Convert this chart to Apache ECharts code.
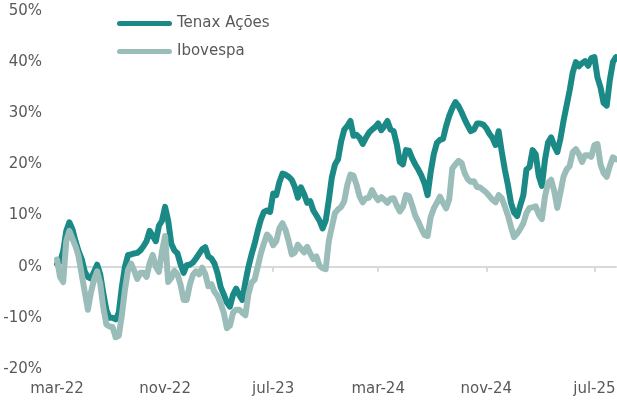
<!DOCTYPE html>
<html>
<head>
<meta charset="utf-8">
<script src="https://cdn.jsdelivr.net/npm/echarts@6/dist/echarts.min.js"></script>
<style>
  html, body { margin: 0; padding: 0; background: #fff; }
  #chart { width: 617px; height: 401px; }
</style>
</head>
<body>
<div id="chart"></div>
<script>
// weekly points, first one on 2022-03-01
const startDate = '2022-03-01'

const tenax = [
  0.5, 1, 3, 7, 8.7, 7.3, 5, 3, 1.5, -1,
  -2, -2.3, -1, 0.4, -1.5, -5.2, -8.5, -10, -10, -10.3,
  -9, -4, 0, 2.3, 2.4, 2.6, 2.7, 3.2, 4, 5,
  7, 6, 5, 8, 9, 11.7, 9, 4.5, 3.2, 2.6,
  0.5, -1.2, 0.3, 0.4, 0.8, 1.6, 2.5, 3.4, 3.8, 2,
  1.6, 0.6, -1.3, -4, -5.4, -7, -7.8, -5.5, -4.3, -5.5,
  -6.5, -3, 0, 2.4, 4.5, 7, 9.2, 10.7, 11, 10.7,
  14.3, 14, 16.5, 18.2, 18, 17.6, 17, 15.6, 13.5, 15.5,
  14.2, 12.5, 12.8, 11, 10, 9, 7.5, 9, 13, 17.5,
  20, 21, 24.5, 26.8, 27.5, 28.5, 25.6, 25.8, 25.2, 24,
  25.2, 26.2, 26.8, 27.3, 28, 26.7, 27.5, 28.5, 26.8, 26.5,
  24, 20.5, 20, 22.8, 22.7, 21.2, 20, 19, 17.8, 16.3,
  14, 18.5, 22, 24.2, 24.8, 25, 27.5, 29.5, 31, 32.2,
  31.4, 30.2, 28.8, 27.6, 26.5, 26.8, 28, 28, 27.8, 27.1,
  26, 25.2, 23.8, 26.5, 22.5, 19, 16, 12.5, 10.6, 9.9,
  12, 14, 19, 19.5, 22.8, 22, 17.7, 15.8, 20.9, 24.3,
  25.3, 23.6, 22.4, 25, 28.5, 31.5, 34.5, 38, 40, 39.2,
  39.8, 40.2, 39.3, 40.8, 41, 37, 35, 32, 31.5, 36.5,
  40, 41
]

const ibovespa = [
  1.4, -2, -3, 5, 7, 5.5, 4, 2, -1.5, -5,
  -8.4, -5, -2.5, -0.9, -3.3, -8, -11.3, -11.7, -11.8, -13.8,
  -13.5, -9.5, -4.5, -0.6, 0.6, -0.8, -2.4, -1.2, -1.2, -2,
  0.7, 2.3, 0, -1, 3, 6, -3, -2.2, -0.8, -1.5,
  -3.5, -6.5, -6.5, -3.5, -1.6, -0.9, -1.5, -0.2, -1.4, -3.8,
  -3.4, -4.9, -5.7, -7.2, -9, -12, -11.5, -9, -8.4, -8.4,
  -9, -9.5, -5.3, -3.1, -2.5, 0, 2.6, 4.6, 6.3, 5.6,
  4.2, 5, 7.5, 8.5, 7.2, 5, 2.4, 2.8, 4.3, 3.5,
  2.8, 3.9, 2.6, 1.5, 2, 0.2, -0.3, -0.5, 5, 7.8,
  10.5, 11.2, 11.7, 12.8, 16, 18, 17.8, 16, 13.7, 12.6,
  13.4, 13.5, 15, 13.8, 13, 13.6, 13.1, 12.5, 13.3, 13.4,
  12, 10.8, 11.7, 14, 13.8, 12, 10, 8.8, 7.4, 6.2,
  6, 9.7, 11.4, 12.5, 13.7, 12.5, 11.4, 13.2, 19.2, 20,
  20.7, 20.3, 18.3, 17.1, 16.6, 16.7, 15.6, 15.5, 15, 14.5,
  13.8, 13.1, 12.6, 14, 13.4, 11.8, 10, 7.8, 5.8, 6.5,
  7.4, 8.5, 10.5, 11.5, 11.6, 11.8, 10.2, 9.3, 13.7, 16.4,
  17, 14.8, 11.5, 14.5, 17.6, 19, 19.7, 22.4, 23, 22,
  20.5, 21.8, 21.8, 21.5, 23.8, 24, 20, 18.3, 17.6, 19.7,
  21.4, 21
]

const tickDates = ['2022-03-01', '2022-11-01', '2023-07-01', '2024-03-01', '2024-11-01', '2025-07-01']
const tickLabels = ['mar-22', 'nov-22', 'jul-23', 'mar-24', 'nov-24', 'jul-25']

const WEEK = 7 * 86400000
const t0 = Date.parse(startDate)
const categories = tenax.map((v, i) => new Date(t0 + i * WEEK).toISOString().slice(0, 10))
const tickIndex = tickDates.map(d => Math.round((Date.parse(d) - t0) / WEEK))
const isTick = i => tickIndex.indexOf(i) >= 0

const font = 'DejaVu Sans'
const textColor = '#595959'

const chart = echarts.init(document.getElementById('chart'))
chart.setOption({
  animation: false,
  textStyle: { fontFamily: font },
  grid: { left: 57, right: 1, top: 11, bottom: 32, containLabel: false, outerBoundsMode: 'none' },
  legend: {
    orient: 'vertical',
    left: 112,
    top: 11,
    itemWidth: 55,
    itemHeight: 5,
    itemGap: 13,
    icon: 'path://M2.5,0H52.5A2.5,2.5,0,0,1,52.5,5H2.5A2.5,2.5,0,0,1,2.5,0Z',
    textStyle: { color: textColor, fontSize: 15, fontFamily: font },
    data: ['Tenax Ações', 'Ibovespa'],
  },
  xAxis: [
    {
      // line at zero with the ticks
      type: 'category',
      boundaryGap: false,
      data: categories,
      axisLine: { onZero: true, lineStyle: { color: '#d9d9d9', width: 2 } },
      axisTick: { show: true, interval: (i) => isTick(i), length: 5, lineStyle: { color: '#d9d9d9', width: 2 } },
      axisLabel: { show: false },
      splitLine: { show: false },
    },
    {
      // labels at the bottom
      type: 'category',
      boundaryGap: false,
      position: 'bottom',
      data: categories,
      axisLine: { show: false, onZero: false },
      axisTick: { show: false },
      axisLabel: {
        interval: (i) => isTick(i),
        formatter: (v, i) => tickLabels[tickIndex.indexOf(i)] || '',
        color: textColor,
        fontSize: 15,
        fontFamily: font,
        margin: 13,
      },
      splitLine: { show: false },
    },
  ],
  yAxis: {
    type: 'value',
    min: -20,
    max: 50,
    interval: 10,
    axisLine: { show: false },
    axisTick: { show: false },
    splitLine: { show: false },
    axisLabel: { formatter: '{value}%', color: textColor, fontSize: 15, fontFamily: font, margin: 15 },
  },
  series: [
    {
      name: 'Tenax Ações',
      type: 'line',
      data: tenax,
      symbol: 'none',
      itemStyle: { color: '#1b8a87' },
      lineStyle: { color: '#1b8a87', width: 6, cap: 'round', join: 'round' },
      emphasis: { disabled: true },
    },
    {
      name: 'Ibovespa',
      type: 'line',
      data: ibovespa,
      symbol: 'none',
      itemStyle: { color: '#9bbdba' },
      lineStyle: { color: '#9bbdba', width: 6, cap: 'round', join: 'round' },
      emphasis: { disabled: true },
    },
  ],
})
</script>
</body>
</html>
